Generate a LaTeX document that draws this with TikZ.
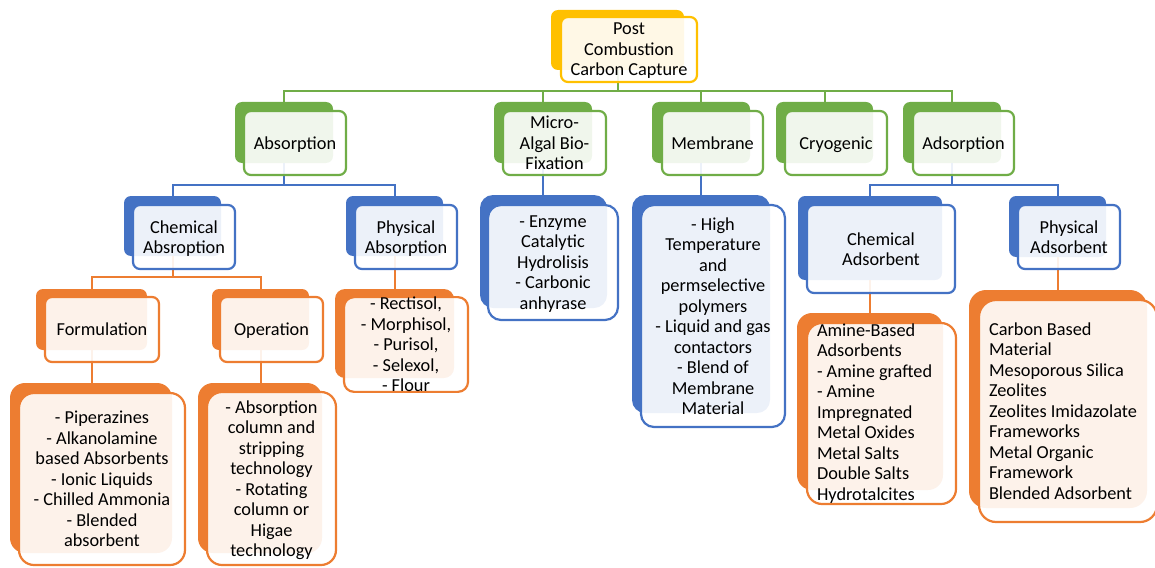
\documentclass[tikz,border=0pt]{standalone}
\usepackage{fontspec}
\setmainfont{Carlito}
\usepackage{tikz}

\definecolor{cgreen}{HTML}{70AD47}
\definecolor{cblue}{HTML}{4472C4}
\definecolor{corange}{HTML}{ED7D31}
\definecolor{cyellow}{HTML}{FFC000}

\begin{document}
\begin{tikzpicture}[x=1pt, y=-1pt,
	every node/.style={font=\fontsize{18.3}{20.5}\selectfont},
	dims/.style 2 args={minimum width=#1, minimum height=#2},
	back/.style={fill=#1, draw=none, rounded corners=7pt, inner sep=0pt},
	front/.style={draw=#1, line width=2.2pt, fill=white, fill opacity=0.9, text opacity=1,
		rounded corners=7pt, inner sep=0pt, text depth=0pt, align=center},
	leftlist/.style={align=flush left, text depth={}, text width=#1},
	link/.style={draw=#1, line width=2pt}]
	
	\useasboundingbox (0,0) rectangle (1155,567);
	
	% back boxes
	\node[back=cyellow, dims={133}{60}] (rootB) at (617.5,40) {};
	\node[back=cgreen, dims={98}{61}] (absB) at (284,132.5) {};
	\node[back=cgreen, dims={98}{61}] (algB) at (543,132.5) {};
	\node[back=cgreen, dims={98}{61}] (memB) at (701,132.5) {};
	\node[back=cgreen, dims={97}{61}] (cryB) at (824.5,132.5) {};
	\node[back=cgreen, dims={98}{61}] (adsB) at (952,132.5) {};
	\node[back=cblue, dims={97}{60}] (chemabsB) at (172.5,226) {};
	\node[back=cblue, dims={97}{60}] (phyabsB) at (394.5,226) {};
	\node[back=cblue, rounded corners=13pt, dims={127}{113}] (algLB) at (543.5,251.5) {};
	\node[back=cblue, rounded corners=13pt, dims={138}{218}] (memLB) at (701,304) {};
	\node[back=cblue, dims={144}{84}] (chemadsB) at (870,238) {};
	\node[back=cblue, dims={97}{61}] (phyadsB) at (1057.5,226.5) {};
	\node[back=corange, dims={111}{61}] (formB) at (91.5,319.5) {};
	\node[back=corange, dims={97}{61}] (operB) at (260.5,319.5) {};
	\node[back=corange, rounded corners=10pt, dims={119}{89}] (phyabsLB) at (394.5,333.5) {};
	\node[back=corange, rounded corners=15pt, dims={162}{170}] (formLB) at (91,468) {};
	\node[back=corange, rounded corners=15pt, dims={124}{170}] (operLB) at (260,468) {};
	\node[back=corange, rounded corners=15pt, dims={146}{177}] (chemadsLB) at (870,401.5) {};
	\node[back=corange, rounded corners=17pt, dims={178}{218}] (phyadsLB) at (1058,399) {};
	
	% links, root to first level
	\draw[link=cgreen] (rootB.south) -- ++(0,21) -| (absB.north);
	\draw[link=cgreen] (rootB.south) -- ++(0,21) -| (algB.north);
	\draw[link=cgreen] (rootB.south) -- ++(0,21) -| (memB.north);
	\draw[link=cgreen] (rootB.south) -- ++(0,21) -| (cryB.north);
	\draw[link=cgreen] (rootB.south) -- ++(0,21) -| (adsB.north);
	
	% links, second level
	\draw[link=cblue] (absB.south) -- ++(0,22) -| (chemabsB.north);
	\draw[link=cblue] (absB.south) -- ++(0,22) -| (phyabsB.north);
	\draw[link=cblue] (algB.south) -- (algB.south |- algLB.north);
	\draw[link=cblue] (memB.south) -- (memB.south |- memLB.north);
	\draw[link=cblue] (adsB.south) -- ++(0,22) -| (chemadsB.north);
	\draw[link=cblue] (adsB.south) -- ++(0,22) -| (phyadsB.north);
	
	% links, third level
	\draw[link=corange] (chemabsB.south) -- ++(0,21) -| (formB.north);
	\draw[link=corange] (chemabsB.south) -- ++(0,21) -| (operB.north);
	\draw[link=corange] (phyabsB.south) -- (phyabsB.south |- phyabsLB.north);
	\draw[link=corange] (formB.south) -- (formB.south |- formLB.north);
	\draw[link=corange] (operB.south) -- (operB.south |- operLB.north);
	\draw[link=corange] (chemadsB.south) -- (chemadsB.south |- chemadsLB.north);
	\draw[link=corange] (phyadsB.south) -- (phyadsB.south |- phyadsLB.north);
	
	% front boxes with the texts
	\node[front=cyellow, dims={136}{65}] (root) at (629,49.5) {Post\\Combustion\\Carbon Capture};
	\node[front=cgreen, dims={102}{64}] (abs) at (295,143) {Absorption};
	\node[front=cgreen, dims={103}{64}] (alg) at (554.5,143) {Micro-\\Algal Bio-\\Fixation};
	\node[front=cgreen, dims={101}{64}] (mem) at (712.5,143) {Membrane};
	\node[front=cgreen, dims={102}{64}] (cry) at (836,143) {Cryogenic};
	\node[front=cgreen, dims={101}{64}] (ads) at (963.5,143) {Adsorption};
	\node[front=cblue, dims={102}{64}] (chemabs) at (184,237) {Chemical\\Absroption};
	\node[front=cblue, dims={102}{64}] (phyabs) at (406,237) {Physical\\Absorption};
	\node[front=cblue, rounded corners=13pt, dims={130}{115}] (algL) at (553,262.5)
		{- Enzyme\\Catalytic\\Hydrolisis\\- Carbonic\\anhyrase};
	\node[front=cblue, rounded corners=13pt, dims={144}{222}] (memL) at (713,316)
		{- High\\Temperature\\and\\permselective\\polymers\\- Liquid and gas\\contactors\\- Blend of\\Membrane\\Material};
	\node[front=cblue, dims={148}{88}] (chemads) at (881,249) {Chemical\\Adsorbent};
	\node[front=cblue, dims={102}{64}] (phyads) at (1069,237) {Physical\\Adsorbent};
	\node[front=corange, dims={114}{65}] (form) at (102,329.5) {Formulation};
	\node[front=corange, dims={103}{65}] (oper) at (271.5,329.5) {Operation};
	\node[front=corange, rounded corners=10pt, dims={124}{93}] (phyabsL) at (406,344.5)
		{- Rectisol,\\- Morphisol,\\- Purisol,\\- Selexol,\\- Flour};
	\node[front=corange, rounded corners=15pt, dims={166}{172}] (formL) at (102,479)
		{- Piperazines\\- Alkanolamine\\based Absorbents\\- Ionic Liquids\\- Chilled Ammonia\\- Blended\\absorbent};
	\node[front=corange, rounded corners=15pt, dims={129}{173}] (operL) at (271.5,478.5)
		{- Absorption\\column and\\stripping\\technology\\- Rotating\\column or\\Higae\\technology};
	\node[front=corange, rounded corners=15pt, leftlist=129pt, dims={149}{181}] (chemadsL) at (881.5,413.5)
		{Amine-Based\\Adsorbents\\- Amine grafted\\- Amine\\Impregnated\\Metal Oxides\\Metal Salts\\Double Salts\\Hydrotalcites};
	\node[front=corange, rounded corners=17pt, leftlist=158pt, dims={178}{222}] (phyadsL) at (1068,411)
		{Carbon Based\\Material\\Mesoporous Silica\\Zeolites\\Zeolites Imidazolate\\Frameworks\\Metal Organic\\Framework\\Blended Adsorbent};
	
\end{tikzpicture}
\end{document}
